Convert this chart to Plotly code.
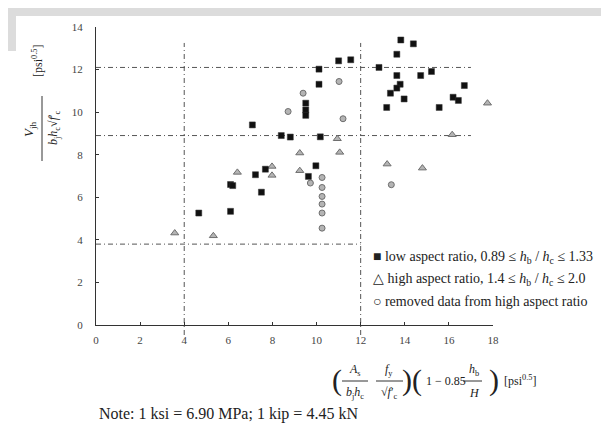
import plotly.graph_objects as go

# ---------------- data ----------------
low_x = [4.66, 6.10, 6.10, 6.20, 7.23, 7.50, 7.68, 7.09, 8.40, 8.81, 9.51, 9.51, 9.51,
         9.97, 9.63, 10.17, 10.11, 10.11, 11.00, 11.55, 12.83, 13.82, 14.39, 13.64, 13.64,
         13.79, 13.64, 13.35, 13.97, 13.18, 14.72, 15.21, 15.56, 16.70, 16.19, 16.43]
low_y = [5.26, 5.34, 6.60, 6.55, 7.06, 6.24, 7.32, 9.40, 8.90, 8.83, 10.42, 10.10, 9.85,
         7.48, 6.98, 8.84, 12.02, 11.31, 12.41, 12.46, 12.10, 13.39, 13.21, 12.72, 11.72,
         11.31, 11.13, 10.89, 10.62, 10.22, 11.72, 11.91, 10.22, 11.25, 10.70, 10.55]

high_x = [3.57, 5.32, 6.41, 7.98, 7.98, 9.24, 9.24, 10.94, 11.05, 13.20, 14.80, 17.75, 16.15]
high_y = [4.32, 4.19, 7.17, 7.45, 7.03, 8.08, 7.25, 8.75, 8.11, 7.56, 7.37, 10.42, 8.94]

removed_x = [9.39, 8.71, 11.20, 11.02, 9.72, 10.25, 10.25, 10.25, 10.25, 10.25, 10.25, 13.39]
removed_y = [10.89, 10.03, 9.69, 11.44, 6.67, 6.93, 6.46, 6.04, 5.68, 5.26, 4.55, 6.59]

h_lines_y = [12.1, 8.9, 3.8]
h_lines_xend = [17.0, 17.0, 12.0]
v_lines_x = [4.0, 12.0]
v_lines_ytop = [13.25, 13.25]

x_ticks = [0, 2, 4, 6, 8, 10, 12, 14, 16, 18]
y_ticks = [0, 2, 4, 6, 8, 10, 12, 14]

legend_labels = [
    "■ low aspect ratio, 0.89 ≤ <i>h</i><sub>b</sub> / <i>h</i><sub>c</sub> ≤ 1.33",
    "△ high aspect ratio, 1.4 ≤ <i>h</i><sub>b</sub> / <i>h</i><sub>c</sub> ≤ 2.0",
    "○ removed data from high aspect ratio",
]
note_text = "Note: 1 ksi = 6.90 MPa; 1 kip = 4.45 kN"

# ---------------- layout geometry ----------------
W, H = 609, 423
L, R, T, B = 88, 124, 19, 106
PW, PH = W - L - R, H - T - B
FONT = "Liberation Serif, Times New Roman, serif"


def px(xp):
    return (xp - L) / PW


def py(yp):
    return (H - B - yp) / PH


fig = go.Figure()

gray_fill = "#b4b4b4"
gray_line = "#6e6e6e"

fig.add_trace(go.Scatter(x=removed_x, y=removed_y, mode="markers",
                         marker=dict(symbol="circle", size=6, color=gray_fill,
                                     line=dict(color=gray_line, width=1)),
                         name="removed", showlegend=False))
fig.add_trace(go.Scatter(x=high_x, y=high_y, mode="markers",
                         marker=dict(symbol="triangle-up", size=7, color=gray_fill,
                                     line=dict(color=gray_line, width=1)),
                         name="high", showlegend=False))
fig.add_trace(go.Scatter(x=low_x, y=low_y, mode="markers",
                         marker=dict(symbol="square", size=6, color="#111111",
                                     line=dict(color="#333333", width=0.5)),
                         name="low", showlegend=False))

dash = "5px,3px,1px,3px"
shapes = []
for yv, xe in zip(h_lines_y, h_lines_xend):
    shapes.append(dict(type="line", xref="x", yref="y", x0=0, x1=xe, y0=yv, y1=yv,
                       line=dict(color="#555555", width=1, dash=dash), layer="below"))
for xv, yt in zip(v_lines_x, v_lines_ytop):
    shapes.append(dict(type="line", xref="x", yref="paper", x0=xv, x1=xv,
                       y0=py(327), y1=yt / 14.0,
                       line=dict(color="#555555", width=1, dash=dash), layer="below"))

# grey scan artefacts at the top-left
shapes.append(dict(type="rect", xref="paper", yref="paper", x0=px(0), x1=px(608),
                   y0=py(8), y1=py(0), fillcolor="#dcdcdc", line=dict(width=0), layer="below"))
shapes.append(dict(type="rect", xref="paper", yref="paper", x0=px(0), x1=px(8),
                   y0=py(43), y1=py(8), fillcolor="#dcdcdc", line=dict(width=0), layer="below"))

# fraction bars (x title)
for x0, x1 in [(334, 360), (368, 395), (455, 474)]:
    shapes.append(dict(type="line", xref="paper", yref="paper", x0=px(x0), x1=px(x1),
                       y0=py(373), y1=py(373), line=dict(color="#333", width=1)))
# fraction bar (y title)
shapes.append(dict(type="line", xref="paper", yref="paper", x0=px(34), x1=px(34),
                   y0=py(153), y1=py(88), line=dict(color="#333", width=1)))

ann = []


def add_text(text, x, y, size=11, angle=0, xanchor="center", color="#222"):
    ann.append(dict(text=text, xref="paper", yref="paper", x=px(x), y=py(y),
                    xanchor=xanchor, yanchor="middle", showarrow=False, textangle=angle,
                    borderpad=0,
                    font=dict(family=FONT, size=size, color=color)))


# legend text
for lab, yy in zip(legend_labels, [249, 271, 293]):
    add_text(lab, 364, yy, size=14, xanchor="left")

# x title formula
add_text("(", 329, 372, size=30)
add_text("<i>A</i><sub>s</sub>", 347, 362, size=12)
add_text("<i>b</i><sub>j</sub><i>h</i><sub>c</sub>", 347, 385, size=12)
add_text("<i>f</i><sub>y</sub>", 381, 362, size=12)
add_text("√<i>f</i>′<sub>c</sub>", 381, 385, size=12)
add_text(")(", 404, 372, size=30)
add_text("1 − 0.85", 438, 373, size=12)
add_text("<i>h</i><sub>b</sub>", 466, 362, size=12)
add_text("<i>H</i>", 466, 385, size=12)
add_text(")", 486, 372, size=30)
add_text("[psi<sup>0.5</sup>]", 512, 372, size=12)

# note
add_text(note_text, 90, 406, size=16, xanchor="left")

# y title
add_text("[psi<sup>0.5</sup>]", 30, 53, size=12, angle=-90)
add_text("<i>V</i><sub>jh</sub>", 21, 122, size=13, angle=-90)
add_text("<i>b</i><sub>j</sub><i>h</i><sub>c</sub>√<i>f</i>′<sub>c</sub>", 46, 120, size=12, angle=-90)

fig.update_layout(
    width=W, height=H,
    margin=dict(l=L, r=R, t=T, b=B, autoexpand=False),
    paper_bgcolor="white", plot_bgcolor="white",
    showlegend=False,
    shapes=shapes, annotations=ann,
    font=dict(family=FONT, size=11, color="#444"),
    xaxis=dict(range=[0, 18], tickvals=x_ticks, ticktext=[str(v) for v in x_ticks],
               showgrid=False, zeroline=False, showline=True, linecolor="#333", linewidth=1,
               ticks="inside", ticklen=3, tickcolor="#333",
               tickfont=dict(family=FONT, size=11, color="#444"), ticklabelstandoff=5),
    yaxis=dict(range=[0, 14], tickvals=y_ticks, ticktext=[str(v) for v in y_ticks],
               showgrid=False, zeroline=False, showline=True, linecolor="#333", linewidth=1,
               ticks="inside", ticklen=3, tickcolor="#333",
               tickfont=dict(family=FONT, size=11, color="#444"), ticklabelstandoff=10),
)

fig.write_html("out.html")
